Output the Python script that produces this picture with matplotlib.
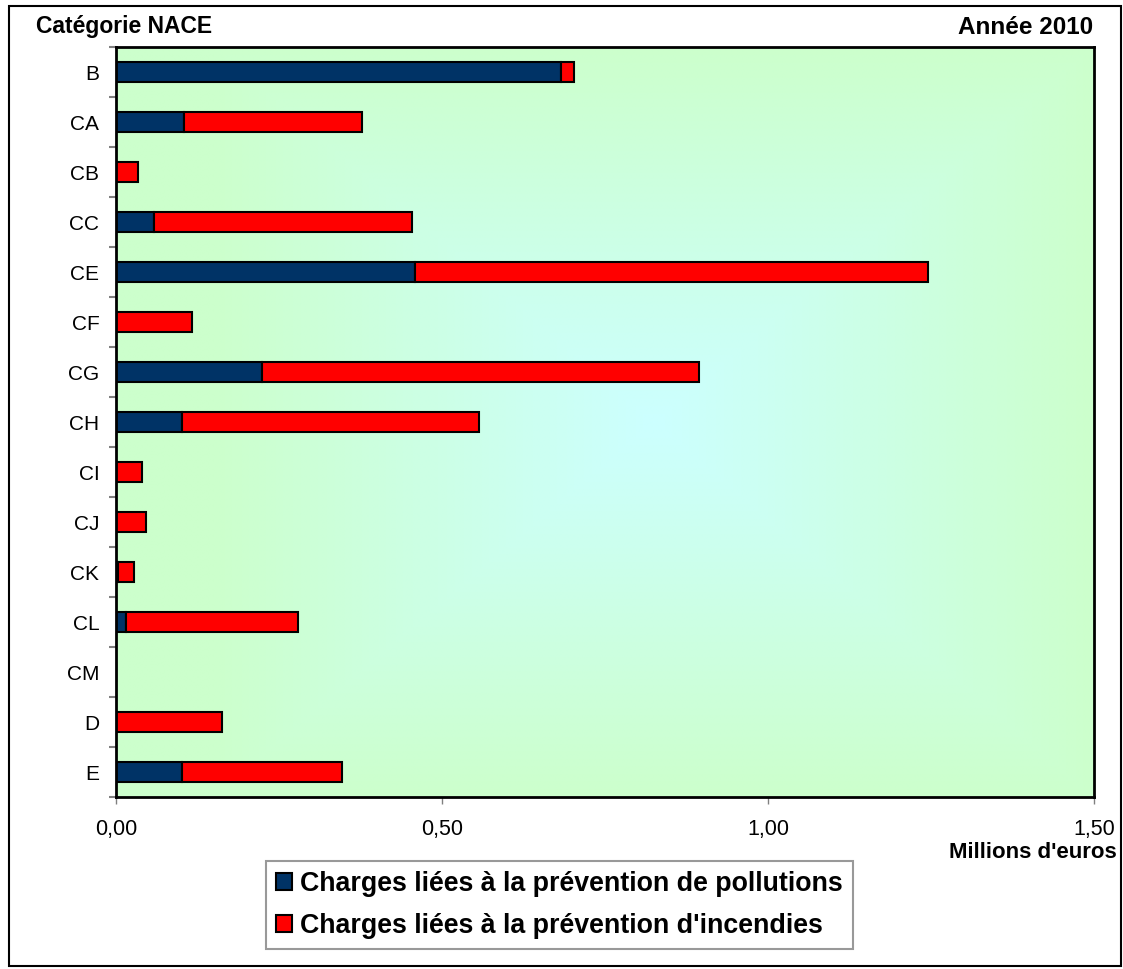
import matplotlib
matplotlib.use('Agg')
import matplotlib.pyplot as plt
from matplotlib.patches import Patch, Rectangle
from matplotlib.colors import LinearSegmentedColormap
import numpy as np

plt.rcParams['font.family'] = ['Liberation Sans', 'DejaVu Sans']

# Charges par catégorie NACE (millions d'euros)
categories = ['B', 'CA', 'CB', 'CC', 'CE', 'CF', 'CG', 'CH', 'CI', 'CJ', 'CK', 'CL', 'CM', 'D', 'E']
pollution = [0.682, 0.104, 0.0, 0.058, 0.458, 0.0, 0.224, 0.101, 0.0, 0.0, 0.003, 0.015, 0.0, 0.0, 0.101]
incendie = [0.021, 0.274, 0.034, 0.396, 0.787, 0.117, 0.670, 0.455, 0.040, 0.046, 0.025, 0.264, 0.0, 0.163, 0.246]
xticks = [0.0, 0.5, 1.0, 1.5]
xtick_labels = ['0,00', '0,50', '1,00', '1,50']
series_labels = ['Charges liées à la prévention de pollutions',
                 "Charges liées à la prévention d'incendies"]

W, H = 1123, 969
fig = plt.figure(figsize=(W / 100, H / 100), dpi=100)
fig.patch.set_facecolor('white')

# axes placed in pixel units
left, right, top, bottom = 116, 1094, 47, 797
ax = fig.add_axes([left / W, 1 - bottom / H, (right - left) / W, (bottom - top) / H])

# rectangular gradient, cyan in the middle fading to pale green
gx, gy = np.meshgrid(np.linspace(0, 1, 400), np.linspace(0, 1, 400))
t = np.maximum(np.abs(gx - 0.55) / 0.45, np.abs(gy - 0.5) / 0.5)
t = np.clip(t, 0, 1)
cmap = LinearSegmentedColormap.from_list('bg', ['#CCFFFF', '#CCFFCC'])
ax.imshow(t, cmap=cmap, extent=(0, 1, 0, 1), transform=ax.transAxes,
          aspect='auto', zorder=0, interpolation='bilinear')

y = np.arange(len(categories))
ax.barh(y, pollution, height=0.4, color='#003366', edgecolor='black', linewidth=1.5, zorder=2)
ax.barh(y, incendie, left=pollution, height=0.4, color='#FF0000', edgecolor='black', linewidth=1.5, zorder=2)

ax.set_xlim(0, 1.5)
ax.set_ylim(len(categories) - 0.5, -0.5)

ax.set_yticks(y)
ax.set_yticklabels(categories, fontsize=15)
ax.set_yticks(np.arange(-0.5, len(categories)), minor=True)
ax.tick_params(axis='y', which='major', length=0, pad=12)
ax.tick_params(axis='y', which='minor', length=5, width=1.5, color='#808080', direction='out')

ax.set_xticks(xticks)
ax.set_xticklabels(xtick_labels, fontsize=15.5)
ax.tick_params(axis='x', length=5, width=1, color='#808080', direction='out', pad=11)

for s in ax.spines.values():
    s.set_linewidth(2)
    s.set_color('black')

fig.text(36 / W, 1 - 27 / H, 'Catégorie NACE', fontsize=16.5, fontweight='bold', ha='left', va='center')
fig.text(1093 / W, 1 - 27 / H, 'Année 2010', fontsize=17.5, fontweight='bold', ha='right', va='center')
fig.text(1117 / W, 1 - 853 / H, "Millions d'euros", fontsize=16, fontweight='bold', ha='right', va='center')

handles = [Patch(facecolor='#003366', edgecolor='black', linewidth=1.5),
           Patch(facecolor='#FF0000', edgecolor='black', linewidth=1.5)]
leg = fig.legend(handles, series_labels, loc='upper left',
                 bbox_to_anchor=(266 / W, 1 - 861 / H), frameon=True, fancybox=False,
                 prop={'size': 19.3, 'weight': 'bold'}, handlelength=0.6, handleheight=0.6,
                 handletextpad=0.3, labelspacing=0.58, borderpad=0.38, borderaxespad=0)
leg.get_frame().set_edgecolor('#808080')
leg.get_frame().set_linewidth(1.5)

# outer frame of the figure
fig.patches.append(Rectangle((9 / W, 1 - 966 / H), 1112 / W, 960 / H, transform=fig.transFigure,
                             fill=False, edgecolor='black', linewidth=1.5))

fig.savefig('out.png', dpi=100)
